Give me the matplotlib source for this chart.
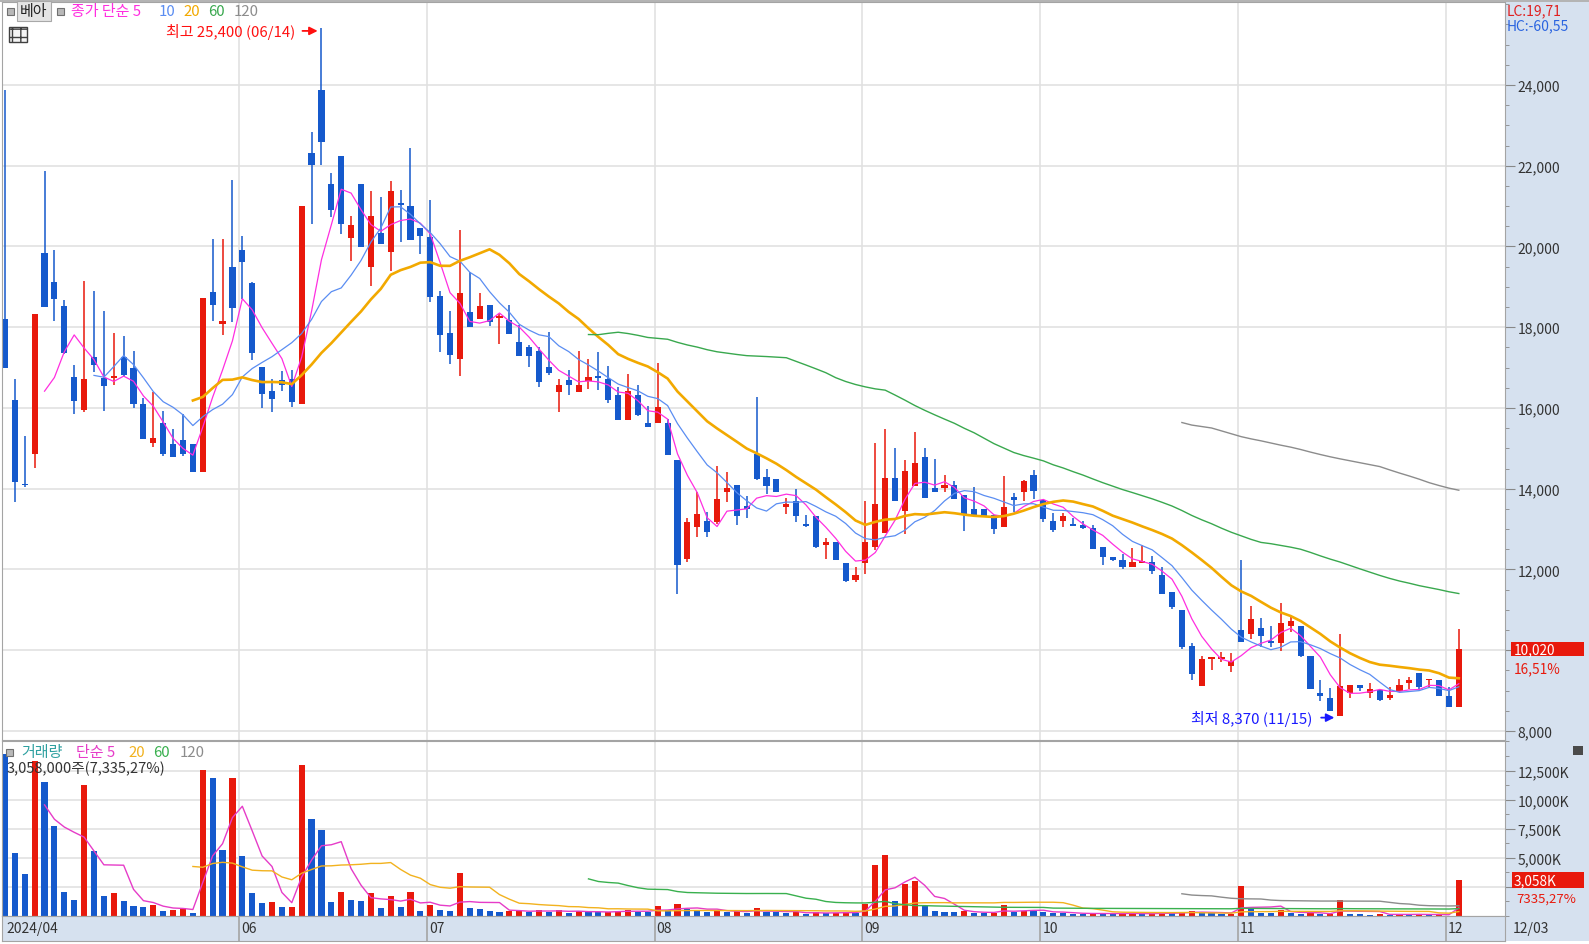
import numpy as np
import pandas as pd
import matplotlib
matplotlib.use('Agg')
import matplotlib.pyplot as plt
from matplotlib.patches import Rectangle
from matplotlib.ticker import MultipleLocator, FixedLocator, FuncFormatter

plt.rcParams['font.family'] = ['Noto Sans CJK KR', 'DejaVu Sans']

# trading days, KRX holidays removed
holidays = ['2024-05-01', '2024-05-06', '2024-05-15', '2024-06-06', '2024-08-15',
            '2024-09-16', '2024-09-17', '2024-09-18', '2024-10-01', '2024-10-03', '2024-10-09']
dates = pd.bdate_range('2024-04-25', '2024-12-03', freq='C', holidays=holidays)

open_ = [18210, 16190, 14120, 14870, 19830, 19120, 18530, 16760, 15960, 17260,
         16750, 16740, 17260, 17000, 16110, 15140, 15630, 15110, 15200, 15110,
         14410, 18870, 18070, 19490, 19920, 19090, 17020, 16430, 16700, 16720,
         16100, 22310, 23880, 21560, 22230, 20210, 21560, 19500, 20330, 19860,
         21070, 21010, 20470, 20230, 18780, 17860, 17210, 18370, 18200, 18560,
         18230, 18190, 17630, 17500, 17420, 17010, 16400, 16690, 16390, 16660,
         16780, 16730, 16330, 15700, 16330, 15640, 15620, 15630, 14720, 12260,
         13040, 13210, 13170, 13910, 14100, 13580, 14860, 14280, 14240, 13540,
         13700, 13100, 13330, 12610, 12670, 12150, 11740, 12150, 12550, 12900,
         14270, 13440, 14060, 14790, 14020, 14020, 14100, 13850, 13510, 13510,
         13350, 13040, 13790, 13910, 14350, 13730, 13210, 13190, 13090, 13090,
         13020, 12560, 12320, 12240, 12070, 12160, 12190, 11860, 11450, 11000,
         10110, 9120, 9780, 9780, 9600, 10510, 10400, 10540, 10200, 10180,
         10610, 10610, 9850, 8940, 8820, 8380, 8940, 9150, 8940, 9020,
         8820, 9000, 9190, 9430, 9250, 9260, 8870, 8600]
high = [23880, 16720, 15300, 18340, 21880, 19920, 18680, 17060, 19150, 18900,
        18400, 17860, 17780, 17410, 16250, 16390, 15920, 15480, 15850, 15110,
        18730, 20180, 20180, 21640, 20260, 19110, 17020, 16730, 16920, 16940,
        21000, 22830, 25400, 21810, 22230, 20760, 21560, 21380, 21220, 21630,
        21410, 22430, 20470, 21140, 18900, 18410, 20420, 19360, 18860, 18560,
        18330, 18560, 18060, 17560, 17500, 17870, 16730, 16940, 17420, 17210,
        17380, 17050, 16510, 16830, 16580, 16060, 17110, 15730, 14720, 13270,
        13910, 13420, 14570, 14410, 14100, 13830, 16260, 14490, 14240, 13760,
        13990, 13350, 13330, 12770, 12670, 12150, 12050, 13700, 15130, 15480,
        15000, 14720, 15410, 15000, 14740, 14350, 14200, 13850, 14050, 13510,
        13350, 14320, 13890, 14220, 14470, 13730, 13400, 13400, 13280, 13210,
        13110, 12560, 12320, 12380, 12530, 12610, 12340, 12050, 11450, 11000,
        10180, 9860, 9820, 9960, 9930, 12230, 11090, 10790, 10610, 11170,
        10840, 10610, 9850, 9250, 9060, 10400, 9150, 9150, 9180, 9020,
        9080, 9290, 9330, 9430, 9290, 9260, 9100, 10520]
low = [16990, 13670, 14050, 14520, 18500, 18160, 17330, 15840, 15890, 16890,
       15920, 16560, 16790, 16000, 15240, 15030, 14820, 14790, 14800, 14410,
       14410, 18160, 17810, 18130, 18700, 17190, 15990, 15890, 16430, 16030,
       16100, 20560, 22020, 20740, 20310, 19630, 19980, 19030, 20060, 19400,
       20100, 20160, 19810, 18620, 17380, 17090, 16780, 18000, 18200, 18020,
       17580, 17830, 17280, 17010, 16510, 16820, 15890, 16310, 16390, 16470,
       16450, 16120, 15700, 15700, 15810, 15520, 15620, 14840, 11390, 12180,
       12800, 12800, 13130, 13680, 13110, 13270, 14220, 13870, 13910, 13370,
       13170, 13040, 12520, 12260, 12230, 11700, 11700, 11890, 12480, 12900,
       13690, 12880, 14060, 13770, 13910, 13910, 13750, 12960, 13350, 13320,
       12880, 13040, 13430, 13700, 13750, 13180, 12940, 13040, 13070, 13000,
       12510, 12110, 12200, 12010, 12050, 12160, 11890, 11390, 11020, 10030,
       9270, 9120, 9520, 9720, 9450, 10200, 10290, 10070, 10070, 9990,
       10460, 9820, 9040, 8750, 8490, 8370, 8810, 9000, 8820, 8730,
       8770, 9000, 9040, 9040, 9080, 8860, 8600, 8600]
close = [16990, 14170, 14080, 18340, 18500, 18690, 17350, 16170, 16720, 17060,
         16540, 16800, 16820, 16090, 15240, 15260, 14850, 14790, 14850, 14410,
         18730, 18560, 18150, 18470, 19620, 17350, 16350, 16220, 16570, 16160,
         21000, 22030, 22600, 20900, 20560, 20520, 19980, 20760, 20060, 21380,
         21040, 20160, 20250, 18740, 17810, 17320, 18850, 18000, 18530, 18120,
         18260, 17830, 17280, 17280, 16650, 16870, 16580, 16570, 16570, 16760,
         16750, 16200, 15700, 16410, 15830, 15520, 16020, 14840, 12110, 13170,
         13370, 12920, 13750, 14010, 13320, 13510, 14240, 14060, 13910, 13610,
         13320, 13080, 12550, 12670, 12230, 11720, 11870, 12670, 13610, 14270,
         13690, 14450, 14630, 13770, 13910, 14100, 13750, 13350, 13350, 13320,
         13000, 13540, 13730, 14200, 13950, 13250, 12980, 13320, 13070, 13020,
         12510, 12300, 12240, 12070, 12190, 12190, 11950, 11390, 11080, 10070,
         9410, 9780, 9820, 9790, 9740, 10200, 10770, 10360, 10190, 10670,
         10730, 9850, 9040, 8860, 8490, 9120, 9150, 9060, 9040, 8770,
         8890, 9140, 9250, 9080, 9290, 8860, 8600, 10020]
# volume in thousand shares
volume = [13880, 5410, 3650, 13290, 11530, 7700, 2060, 1380, 11230, 5590,
          1740, 1970, 1290, 850, 740, 940, 410, 500, 650, 290,
          12550, 11880, 5700, 11880, 5150, 1970, 1090, 1180, 740, 740,
          13000, 8350, 7350, 1180, 2060, 1380, 1290, 1970, 650, 1760,
          740, 2060, 410, 940, 500, 410, 3700, 650, 600, 450,
          380, 430, 470, 320, 550, 360, 500, 280, 400, 340,
          320, 380, 450, 540, 360, 320, 820, 540, 1000, 640,
          450, 320, 540, 360, 400, 270, 720, 360, 320, 220,
          320, 180, 360, 220, 270, 360, 270, 1000, 4400, 5200,
          1250, 2780, 3040, 900, 450, 360, 320, 450, 270, 220,
          270, 970, 320, 450, 400, 350, 260, 220, 180, 160,
          260, 250, 180, 200, 220, 180, 220, 300, 260, 350,
          400, 350, 220, 160, 180, 2590, 560, 300, 250, 550,
          250, 200, 220, 150, 180, 1350, 200, 130, 110, 150,
          110, 170, 130, 150, 90, 120, 41, 3058]

price_ma = [5, 10, 20, 60, 120]
price_ma_colors = ['#ff2ee0', '#5a8df2', '#f2a900', '#39a84e', '#8c8c8c']
price_ma_widths = [0.9, 0.9, 1.9, 1.0, 1.0]
vol_ma = [5, 20, 60, 120]
vol_ma_colors = ['#e63cc8', '#f2b21e', '#39b04e', '#8c8c8c']
shown_months = ['06', '07', '08', '09', '10', '11', '12']

RED = '#e8190c'
BLUE = '#1559cc'
BAND = '#d6e1ef'
GRID = '#e1e1e1'
FRAME = '#a4a4a4'

W, H = 1589, 945


def box(x0, y0, x1, y1):
    return [x0 / W, 1 - y1 / H, (x1 - x0) / W, (y1 - y0) / H]


def put(x, y, s, color, size=10.8, **kw):
    fig.text(x / W, 1 - y / H, s, color=color, fontsize=size, va='center', **kw)


def square(x, y):
    # small grey legend square
    fig.add_artist(Rectangle((x / W, 1 - (y + 3.5) / H), 7 / W, 7 / H, transform=fig.transFigure,
                             fc='#b8b8b8', ec='#707070', lw=0.8, zorder=4))


o = np.array(open_, float)
h = np.array(high, float)
l = np.array(low, float)
c = np.array(close, float)
v = np.array(volume, float)
idx = np.arange(len(dates))

fig = plt.figure(figsize=(W / 100, H / 100), dpi=100)
fig.patch.set_facecolor('white')
fig.add_artist(Rectangle((1505 / W, 1 - 942 / H), (W - 1505) / W, 940 / H,
                         transform=fig.transFigure, fc=BAND, ec='none', zorder=-2))
fig.add_artist(Rectangle((0, 1 - 3 / H), 1, 3 / H, transform=fig.transFigure,
                         fc='#b4b4b4', ec='none', zorder=-1))

ax = fig.add_axes(box(2, 3, 1505, 741))
axv = fig.add_axes(box(2, 742, 1505, 917), sharex=ax)
axd = fig.add_axes(box(2, 917, 1505, 942), sharex=ax)

# month positions
mon = pd.Series(dates.strftime('%m'))
starts = {m: int(mon[mon == m].index[0]) for m in shown_months}

for a in (ax, axv, axd):
    for s in a.spines.values():
        s.set_color(FRAME)
    for m, i in starts.items():
        a.axvline(i - 0.3, color=GRID if a is not axd else FRAME, lw=1.2, zorder=0)
ax.set_xlim(-0.3, 151.67)

# ---- price panel
up = c >= o
col = np.where(up, RED, BLUE)
ax.vlines(idx, l, h, colors=col, lw=1.1, zorder=2)
body_lo = np.minimum(o, c)
body_h = np.maximum(np.abs(c - o), 45)
ax.bar(idx, body_h, bottom=body_lo, width=0.62, color=col, lw=0, zorder=2)

cs = pd.Series(c)
for n, colr, lw in zip(price_ma, price_ma_colors, price_ma_widths):
    ax.plot(idx, cs.rolling(n).mean(), color=colr, lw=lw, zorder=3)

ax.set_ylim(7776, 26056)
ax.yaxis.tick_right()
ax.yaxis.set_major_locator(FixedLocator(np.arange(8000, 24001, 2000)))
ax.yaxis.set_minor_locator(MultipleLocator(500))
# the last-price box hides the tick label beneath it
ax.yaxis.set_major_formatter(FuncFormatter(
    lambda x, p: '' if abs(x - c[-1]) < 400 else f'{int(x):,}'))
ax.tick_params(axis='y', which='major', length=7, color='#888888', labelsize=10,
               labelcolor='#333333', pad=2)
ax.tick_params(axis='y', which='minor', length=3, color='#888888')
ax.tick_params(axis='x', which='both', bottom=False, labelbottom=False)
ax.grid(axis='y', color=GRID, lw=1.2, zorder=0)

# high / low marks
ih, il = int(np.argmax(h)), int(np.argmin(l))
ax.annotate('', xy=(ih - 0.1, h[ih] - 60), xytext=(ih - 2.2, h[ih] - 60),
            arrowprops=dict(arrowstyle='-|>', color='#ff1010', lw=1.3, mutation_scale=12))
ax.text(ih - 2.6, h[ih] - 60, f'최고 {h[ih]:,.0f} ({dates[ih]:%m/%d})', color='#ff1010',
        fontsize=10.8, ha='right', va='center')
ax.annotate('', xy=(il - 0.3, l[il] - 40), xytext=(il - 2.2, l[il] - 40),
            arrowprops=dict(arrowstyle='-|>', color='#1a1aff', lw=1.3, mutation_scale=12))
ax.text(il - 2.8, l[il] - 40, f'최저 {l[il]:,.0f} ({dates[il]:%m/%d})', color='#1a1aff',
        fontsize=10.8, ha='right', va='center')

# last price box
ytr = ax.get_yaxis_transform()
ax.add_patch(Rectangle((1.0038, c[-1] - 175), 0.049, 370, transform=ytr,
                       fc='#e8190c', ec='none', clip_on=False, zorder=5))
ax.text(1.0055, c[-1] + 10, f'{c[-1]:,.0f}', transform=ytr, color='white', fontsize=9.8,
        va='center', zorder=6, clip_on=False)
pct = (c[-1] / c[-2] - 1) * 100
ax.text(1.0055, c[-1] - 470, f'{pct:.2f}%'.replace('.', ','), transform=ytr,
        color='#e8190c', fontsize=9.8, va='center', clip_on=False)

# ---- volume panel
prev_v = np.r_[np.inf, v[:-1]]
vcol = np.where(v >= prev_v, RED, BLUE)
axv.bar(idx, v, width=0.62, color=vcol, lw=0, zorder=2)
vs = pd.Series(v)
for n, colr in zip(vol_ma, vol_ma_colors):
    axv.plot(idx, vs.rolling(n).mean(), color=colr, lw=1.0, zorder=3)
axv.set_ylim(0, 15040)
axv.yaxis.tick_right()
axv.yaxis.set_major_locator(FixedLocator(np.arange(2500, 12501, 2500)))
axv.yaxis.set_minor_locator(MultipleLocator(1250))
axv.yaxis.set_major_formatter(FuncFormatter(lambda x, p: '' if x < 5000 else f'{int(x):,}K'))
axv.tick_params(axis='y', which='major', length=7, color='#888888', labelsize=10,
                labelcolor='#333333', pad=2)
axv.tick_params(axis='y', which='minor', length=3, color='#888888')
axv.tick_params(axis='x', which='both', bottom=False, labelbottom=False)
axv.grid(axis='y', color=GRID, lw=1.2, zorder=0)

vtr = axv.get_yaxis_transform()
axv.add_patch(Rectangle((1.0045, v[-1] - 690), 0.048, 1380, transform=vtr,
                        fc='#e8190c', ec='none', clip_on=False, zorder=5))
axv.text(1.0058, v[-1], f'{v[-1]:,.0f}K', transform=vtr, color='white', fontsize=9.8,
         va='center', zorder=6, clip_on=False)
axv.text(1.0075, v[-1] - 1500, '7335,27%', transform=vtr, color='#e8190c',
         fontsize=9.5, va='center', clip_on=False)

# ---- date band
axd.set_facecolor(BAND)
axd.set_ylim(0, 1)
axd.set_yticks([])
axd.tick_params(axis='x', which='both', bottom=False, labelbottom=False)
axd.text(0.1, 0.5, f'{dates[0]:%Y/%m}', color='#333333', fontsize=10, va='center')
for m, i in starts.items():
    axd.text(i - 0.1, 0.5, m, color='#333333', fontsize=10, va='center')
put(1513, 929, f'{dates[-1]:%m/%d}', '#333333', size=10)

# ---- legends and labels
square(7, 12)
put(20, 12, '베아', '#222222', bbox=dict(boxstyle='square,pad=0.2', fc='#e4e4e4', ec='#a8a8a8', lw=0.8))
square(57, 12)
put(71, 12, '종가 단순 5', price_ma_colors[0])
put(159, 12, '10', price_ma_colors[1])
put(183, 12, '20', price_ma_colors[2])
put(208, 12, '60', price_ma_colors[3])
put(234, 12, '120', price_ma_colors[4])
fig.add_artist(Rectangle((9 / W, 1 - 43 / H), 18 / W, 15 / H, transform=fig.transFigure,
                         fc='#f4f4f4', ec='#404040', lw=1.0, hatch='++', zorder=4))

put(1507, 11, 'LC:19,71', '#e02020', size=10)
put(1507, 26, 'HC:-60,55', '#2a64e0', size=10)

square(6, 753)
put(21, 753, '거래량', '#2ea0a0')
put(76, 753, '단순 5', vol_ma_colors[0])
put(128, 753, '20', vol_ma_colors[1])
put(153, 753, '60', vol_ma_colors[2])
put(180, 753, '120', vol_ma_colors[3])
put(7, 769, '3,058,000주(7,335,27%)', '#333333', size=10.5)
fig.add_artist(Rectangle((1573 / W, 1 - 756 / H), 10 / W, 9 / H, transform=fig.transFigure,
                         fc='#4a4a4a', ec='none', zorder=4))

plt.savefig('out.png', dpi=100)
